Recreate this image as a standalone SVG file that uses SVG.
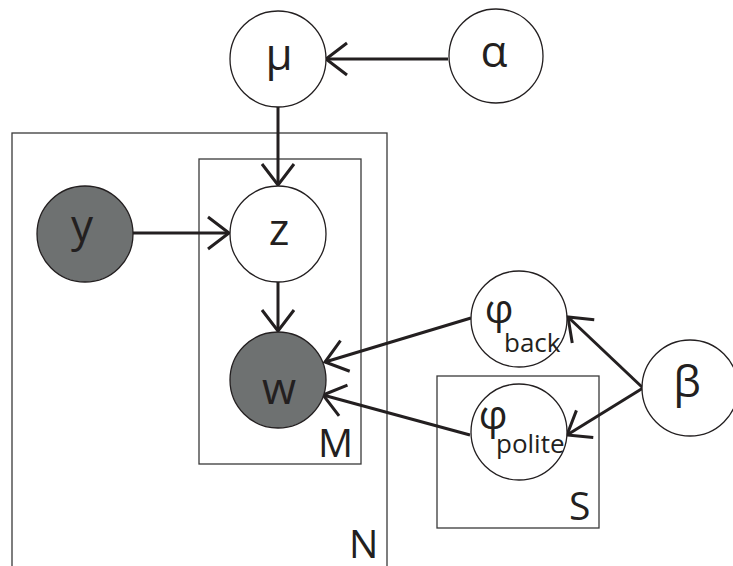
<svg xmlns="http://www.w3.org/2000/svg" width="733" height="566" viewBox="0 0 733 566">
<defs>
<style>
.plate{fill:none;stroke:#3a3a3a;stroke-width:1.3}
.node{fill:#fff;stroke:#231f20;stroke-width:1.3}
.obs{fill:#6e7171;stroke:#231f20;stroke-width:1.3}
.lbl{font-family:"Open Sans","Liberation Sans",sans-serif;fill:#231f20;text-anchor:middle}
.big{font-size:44px}
.phi{font-size:40px}
.sub{font-family:"Open Sans","Liberation Sans",sans-serif;fill:#231f20;font-size:26px}
.plbl{font-family:"Open Sans","Liberation Sans",sans-serif;fill:#231f20;font-size:39px}
.edge{stroke:#231f20;stroke-width:3;fill:none;marker-end:url(#arr)}
</style>
<marker id="arr" markerUnits="userSpaceOnUse" orient="auto" markerWidth="30" markerHeight="40" refX="24" refY="20" viewBox="0 0 30 40">
<path d="M3,4 L24,20 L3,36" fill="none" stroke="#231f20" stroke-width="3"/>
</marker>
</defs>
<g id="plates">
<rect id="plate-N" class="plate" x="12" y="133" width="375" height="460"/>
<rect id="plate-M" class="plate" x="199" y="159" width="162" height="305"/>
<rect id="plate-S" class="plate" x="437" y="376" width="162" height="152"/>
<text class="plbl" x="349" y="558">N</text>
<text class="plbl" x="318" y="457">M</text>
<text class="plbl" x="569" y="520">S</text>
</g>
<g id="connectors">
<line class="edge" x1="448" y1="59" x2="326" y2="59"/>
<line class="edge" x1="278" y1="107" x2="278" y2="185"/>
<line class="edge" x1="133" y1="233" x2="229" y2="233"/>
<line class="edge" x1="278" y1="282" x2="278" y2="331"/>
<line class="edge" x1="471" y1="318" x2="325" y2="362"/>
<line class="edge" x1="470" y1="435" x2="323" y2="395"/>
<line class="edge" x1="643" y1="388" x2="568" y2="317"/>
<line class="edge" x1="643" y1="388" x2="567" y2="435"/>
</g>
<g id="mu"><circle class="node" cx="278" cy="59" r="48"/><text class="lbl big" x="279" y="70">μ</text></g>
<g id="alpha"><circle class="node" cx="496" cy="56" r="47"/><text class="lbl big" x="494" y="67">α</text></g>
<g id="y"><circle class="obs" cx="85" cy="234" r="48"/><text class="lbl big" x="82" y="241">y</text></g>
<g id="z"><circle class="node" cx="278" cy="234" r="48"/><text class="lbl big" x="279" y="245">z</text></g>
<g id="w"><circle class="obs" cx="278" cy="380" r="48"/><text class="lbl big" x="279" y="404">w</text></g>
<g id="phi-back"><circle class="node" cx="519" cy="319" r="48"/><text class="lbl phi" x="499" y="323">φ</text><text class="sub" x="504" y="352">back</text></g>
<g id="phi-polite"><circle class="node" cx="519" cy="432" r="48"/><text class="lbl phi" x="493" y="429">φ</text><text class="sub" x="496" y="453">polite</text></g>
<g id="beta"><circle class="node" cx="690" cy="388" r="48"/><text class="lbl big" x="687" y="397">β</text></g>
</svg>
